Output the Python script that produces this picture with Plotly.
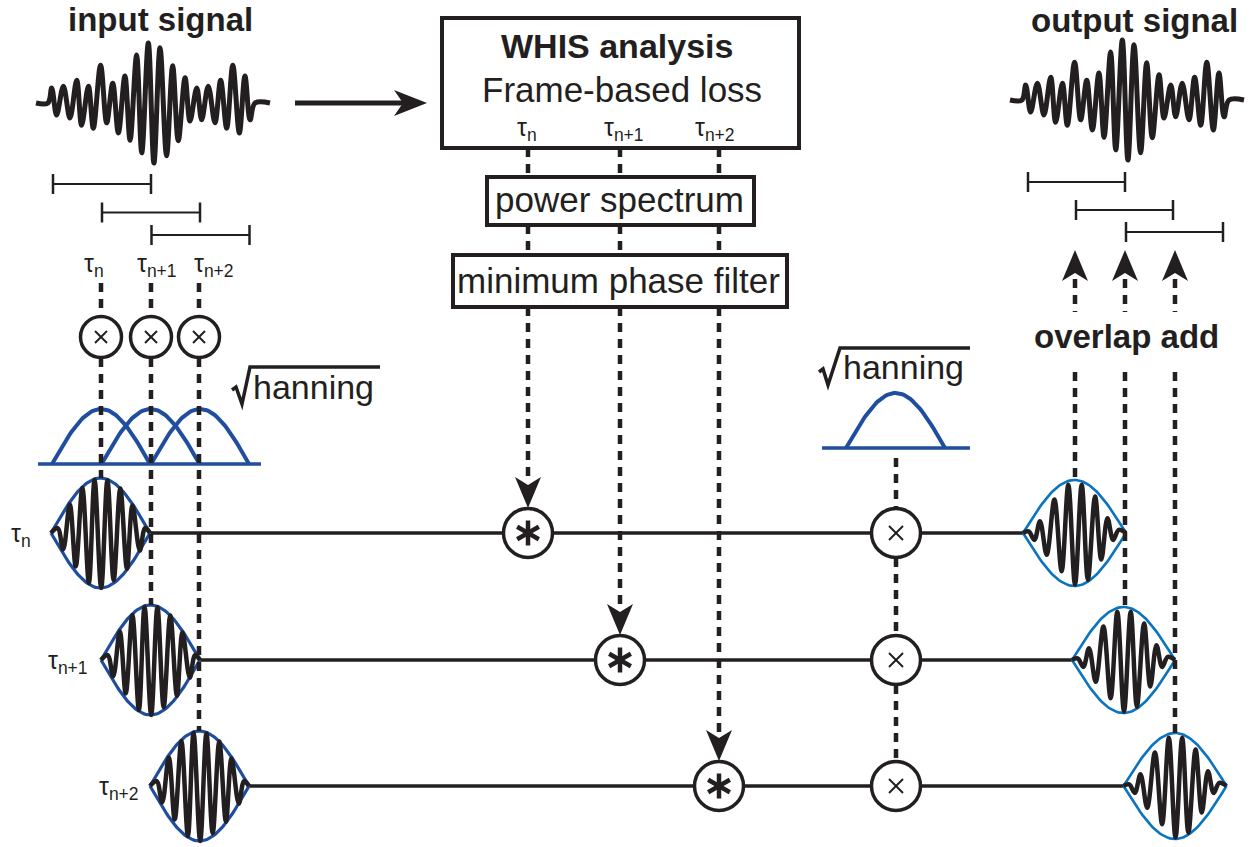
import numpy as np
import plotly.graph_objects as go

# ---------------- data ----------------
# input / output signal: extrema positions (% of signal span) and normalised amplitude
SIGNAL_T = [0, 5.1, 6.7, 8.8, 11.7, 14.5, 17.4, 19.5, 22.4, 24.5, 27.6, 30.2, 32.8, 35.2,
            38.0, 40.2, 43.0, 45.2, 48.0, 50.4, 53.0, 55.8, 58.4, 60.8, 63.7, 65.8, 68.7,
            70.8, 73.6, 76.5, 78.9, 81.5, 84.1, 86.9, 89.3, 91.5, 93.6, 100]
SIGNAL_A = [0, 0, .25, -.2, .28, -.25, .38, -.37, .28, -.42, .63, -.33, .33, -.5, .45, -.62,
            .8, -.83, 1.0, -1.0, .92, -.88, .62, -.63, .42, -.3, .25, -.28, .28, -.33, .38,
            -.42, .63, -.5, .45, -.28, 0, 0]
# windowed frame (analysis side): extrema positions (% of frame) and amplitude (fraction of window)
FRAME_IN_T = [0, 6.7, 12.3, 19, 25, 31.7, 38.3, 44, 50.7, 57, 63.3, 70, 76.7, 82.3, 89.7, 95, 100]
FRAME_IN_A = [0, .09, -.30, .52, -.61, .82, -.91, .97, -1.0, .96, -.86, .81, -.65, .50, -.32, .09, 0]
# filtered frame (synthesis side)
FRAME_OUT_T = [0, 5.5, 11, 16.5, 23, 30.5, 37.5, 44, 50.5, 57, 63, 70, 76, 82, 87.5, 93, 100]
FRAME_OUT_A = [0, .03, -.13, .22, -.41, .63, -.72, .91, -.97, .91, -.88, .69, -.5, .28, -.13, .06, 0]

FRAME_LABELS = ["τ<sub>n</sub>", "τ<sub>n+1</sub>", "τ<sub>n+2</sub>"]
TITLES = ["input signal", "output signal", "overlap add"]
BOX_TEXTS = ["WHIS analysis", "Frame-based loss", "power spectrum", "minimum phase filter"]
WINDOW_NAME = "hanning"

# ---------------- layout / style ----------------
W, H = 1256, 847
INK = "#231f20"
BLUE = "#1f4e9e"
BLUE_OUT = "#0b74bf"
FONT = "Liberation Sans"
DASH = "9px,7px"
DW = 4.5

ROWS = [533, 660, 786]
IN_X = [101, 151, 199]          # analysis frame centres
CONV_X = [528, 620, 719]        # convolution columns
MUL_X = 896
OUT_X = [1075, 1125, 1175]

fig = go.Figure()
shapes = []
ann = []


def line(x0, y0, x1, y1, w=3.5, color=INK, dash=None):
    d = dict(color=color, width=w)
    if dash:
        d["dash"] = dash
    shapes.append(dict(type="line", x0=x0, y0=y0, x1=x1, y1=y1, line=d, layer="above"))


def circle(cx, cy, r, w=3.5):
    shapes.append(dict(type="circle", x0=cx - r, x1=cx + r, y0=cy - r, y1=cy + r,
                       line=dict(color=INK, width=w), fillcolor="white", layer="above"))


def rect(x0, y0, x1, y1, w=4):
    shapes.append(dict(type="rect", x0=x0, x1=x1, y0=y0, y1=y1,
                       line=dict(color=INK, width=w), fillcolor="white", layer="above"))


def arrowhead(xt, yt, direction, L=31, hw=13, notch=8):
    if direction == "down":
        pts = [(xt, yt), (xt - hw, yt - L), (xt, yt - L + notch), (xt + hw, yt - L)]
    elif direction == "up":
        pts = [(xt, yt), (xt - hw, yt + L), (xt, yt + L - notch), (xt + hw, yt + L)]
    else:  # right
        pts = [(xt, yt), (xt - L, yt - hw), (xt - L + notch, yt), (xt - L, yt + hw)]
    p = "M " + " L ".join(f"{x},{y}" for x, y in pts) + " Z"
    shapes.append(dict(type="path", path=p, fillcolor=INK, line=dict(width=0), layer="above"))


def text(x, y, s, size=34, bold=False):
    ann.append(dict(x=x, y=y, xref="x", yref="y", showarrow=False,
                    text=f"<b>{s}</b>" if bold else s, xanchor="center", yanchor="middle",
                    font=dict(family=FONT, size=size, color=INK)))


def wave(x0, span, base, amp, T, A, width=5, color=INK):
    xs = [x0 + t / 100 * span for t in T]
    ys = [base - a * amp for a in A]
    fig.add_trace(go.Scatter(x=xs, y=ys, mode="lines", hoverinfo="skip",
                             line=dict(color=color, width=width, shape="spline", smoothing=1.0)))


def window_arc(x0, span, base, height, color, width, both=False):
    t = np.linspace(0, 1, 61)
    env = np.sin(np.pi * t)  # sqrt(hanning)
    xs = list(x0 + t * span)
    ys = list(base - height * env)
    if both:
        xs += [None] + list(x0 + t * span)
        ys += [None] + list(base + height * env)
    fig.add_trace(go.Scatter(x=xs, y=ys, mode="lines", hoverinfo="skip",
                             line=dict(color=color, width=width)))


def frame(x0, span, base, h, T, A, env_color, env_w):
    window_arc(x0, span, base, h, env_color, env_w, both=True)
    wave(x0, span, base, h, T, A, width=4.5)


# ---------------- signals ----------------
wave(36, 234, 103, 60, SIGNAL_T, SIGNAL_A)
wave(1010, 234, 100, 60, SIGNAL_T, SIGNAL_A)
text(160, 19, TITLES[0], 33, bold=True)
text(1134, 20, TITLES[1], 33, bold=True)

# input arrow
line(295, 103, 405, 103, w=5)
arrowhead(427, 103, "right", L=33, hw=13, notch=9)

# frame bars
for x0, y in zip([53, 102, 151.5], [184, 212.5, 235]):
    line(x0, y, x0 + 98, y, w=2)
    line(x0, y - 10, x0, y + 10, w=2.5)
    line(x0 + 98, y - 10, x0 + 98, y + 10, w=2.5)
for x0, y in zip([1028, 1076, 1126], [182, 210, 232]):
    line(x0, y, x0 + 97, y, w=2)
    line(x0, y - 10, x0, y + 10, w=2.5)
    line(x0 + 97, y - 10, x0 + 97, y + 10, w=2.5)

# top tau labels (input)
for xc, lab in zip([94, 157, 214], FRAME_LABELS):
    text(xc, 265, lab, 25)

# left hanning windows
line(38, 464, 261, 464, w=3.5, color=BLUE)
for x0 in [52, 101.5, 151]:
    window_arc(x0, 98, 464, 55, BLUE, 4)
# right hanning window
line(822, 448, 970, 448, w=3.5, color=BLUE)
window_arc(846, 99, 448, 55, BLUE, 4)

# radicals + hanning texts
shapes.append(dict(type="path", path="M 232,390 L 236,387 L 242,404 L 250,367 L 380,367",
                   line=dict(color=INK, width=3.5), layer="above"))
shapes.append(dict(type="path", path="M 819,372 L 823,369 L 828,385 L 840,348 L 970,348",
                   line=dict(color=INK, width=3.5), layer="above"))
text(313, 387, WINDOW_NAME, 34)
text(903, 367, WINDOW_NAME, 34)

# timelines
line_ends = [(150, 1023), (200, 1072), (249, 1123.5)]
for (xa, xb), y in zip(line_ends, ROWS):
    fig.add_trace(go.Scatter(x=[xa, xb], y=[y, y], mode="lines", hoverinfo="skip",
                             line=dict(color=INK, width=3.5)))

# analysis frames
for x0, y in zip([51, 101, 150], ROWS):
    frame(x0, 99, y, 55, FRAME_IN_T, FRAME_IN_A, BLUE, 3.2)
# synthesis frames
for x0, y in zip([1023, 1072, 1123.5], ROWS):
    frame(x0, 103, y, 53, FRAME_OUT_T, FRAME_OUT_A, BLUE_OUT, 2.6)

# row labels
for xc, y, lab in zip([21, 68, 119], ROWS, FRAME_LABELS):
    text(xc, y + 2, lab, 25)

# dashed lines (input side)
for x, y in zip(IN_X, ROWS):
    line(x, 283, x, 316, w=DW, dash=DASH)
    line(x, 358, x, y - 55, w=DW, dash=DASH)
for x in IN_X:
    circle(x, 337, 20.5)
    line(x - 6, 331, x + 6, 343, w=2)
    line(x - 6, 343, x + 6, 331, w=2)

# WHIS boxes
for x, y in zip(CONV_X, ROWS):
    line(x, 148, x, 177, w=DW, dash=DASH)
    line(x, 225, x, 255, w=DW, dash=DASH)
    line(x, 307, x, y - 25 - 26, w=DW, dash=DASH)
    arrowhead(x, y - 25, "down", L=31, hw=13, notch=8)
rect(442, 18, 799, 148)
rect(487, 177, 754, 225)
rect(453, 255, 787, 307)
text(617, 46, BOX_TEXTS[0], 34, bold=True)
text(622, 89, BOX_TEXTS[1], 35)
for xc, lab in zip([527, 624, 715], FRAME_LABELS):
    text(xc, 129, lab, 25)
text(619, 199, BOX_TEXTS[2], 35)
text(618, 280, BOX_TEXTS[3], 35)

# convolution circles
for x, y in zip(CONV_X, ROWS):
    circle(x, y, 24.5)
    for ang in (90, 30, -30):
        dx = 12.5 * np.cos(np.radians(ang))
        dy = 12.5 * np.sin(np.radians(ang))
        line(x - dx, y - dy, x + dx, y + dy, w=4.5)

# multiplication with synthesis window
line(MUL_X, 458, MUL_X, ROWS[0] - 25, w=DW, dash=DASH)
line(MUL_X, ROWS[0] + 25, MUL_X, ROWS[1] - 25, w=DW, dash=DASH)
line(MUL_X, ROWS[1] + 25, MUL_X, ROWS[2] - 25, w=DW, dash=DASH)
for y in ROWS:
    circle(MUL_X, y, 24.5)
    line(MUL_X - 7, y - 7, MUL_X + 7, y + 7, w=2)
    line(MUL_X - 7, y + 7, MUL_X + 7, y - 7, w=2)

# overlap add
for x, y in zip(OUT_X, ROWS):
    arrowhead(x, 250, "up", L=31, hw=13, notch=8)
    line(x, 279, x, 312, w=DW, dash=DASH)
    line(x, 372, x, y - 53, w=DW, dash=DASH)
text(1126, 336, TITLES[2], 33, bold=True)

fig.update_layout(
    width=W, height=H, margin=dict(l=0, r=0, t=0, b=0),
    paper_bgcolor="white", plot_bgcolor="white", showlegend=False,
    xaxis=dict(range=[0, W], visible=False, fixedrange=True),
    yaxis=dict(range=[H, 0], visible=False, fixedrange=True),
    shapes=shapes, annotations=ann,
)

fig.write_html("out.html", config={"displayModeBar": False, "staticPlot": True},
               post_script="document.body.style.margin='0';document.body.style.overflow='hidden';")
